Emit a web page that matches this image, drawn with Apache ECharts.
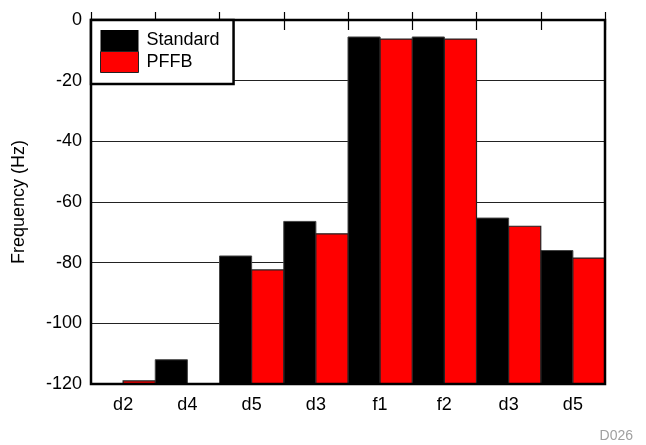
<!DOCTYPE html>
<html>
<head>
<meta charset="utf-8">
<script src="https://cdn.jsdelivr.net/npm/echarts@6/dist/echarts.min.js"></script>
<style>
  html, body { margin: 0; padding: 0; background: #fff; }
  #chart { width: 646px; height: 445px; }
</style>
</head>
<body>
<div id="chart"></div>
<script>
(function () {
  'use strict';
  // categories along the x axis (d3 and d5 appear twice)
  var categories = ['d2', 'd4', 'd5', 'd3', 'f1', 'f2', 'd3', 'd5'];
  // bar tops
  var standard = [-120, -112, -77.8, -66.4, -5.6, -5.6, -65.3, -76];
  var pffb = [-119, -120, -82.4, -70.5, -6.3, -6.3, -68, -78.5];
  var yMin = -120;
  var yMax = 0;
  var yStep = 20;

  var font = '"Liberation Sans", Arial, sans-serif';
  var myChart = echarts.init(document.getElementById('chart'));

  // bars start from the bottom of the axis, so draw them as custom rects
  function makeRender(side) {
    return function (params, api) {
      var idx = api.value(0);
      var top = api.coord([idx, api.value(1)]);
      var base = api.coord([idx, yMin]);
      var band = api.size([1, 0])[0];
      var h = base[1] - top[1];
      if (h <= 0.5) return null;
      var x = side === 0 ? top[0] - band / 2 : top[0];
      return {
        type: 'rect',
        shape: { x: x, y: top[1], width: band / 2, height: h },
        style: api.style()
      };
    };
  }

  function toData(arr) {
    return arr.map(function (v, i) { return [i, v]; });
  }

  var option = {
    animation: false,
    backgroundColor: '#fff',
    textStyle: { fontFamily: font },
    grid: {
      left: 91, right: 41, top: 20, bottom: 61,
      show: true, z: 10,
      borderColor: '#000', borderWidth: 2.5,
      backgroundColor: 'transparent'
    },
    legend: {
      orient: 'vertical',
      left: 91, top: 20,
      padding: [10, 14, 11, 9],
      itemGap: 0,
      itemWidth: 38,
      itemHeight: 21,
      backgroundColor: '#fff',
      borderColor: '#000',
      borderWidth: 2.5,
      z: 20,
      textStyle: { fontFamily: font, fontSize: 18, color: '#000', padding: [0, 0, 0, 3] },
      data: [
        { name: 'Standard', icon: 'rect', itemStyle: { color: '#000', borderWidth: 0 } },
        { name: 'PFFB', icon: 'rect', itemStyle: { color: '#ff0000', borderColor: '#222', borderWidth: 1 } }
      ]
    },
    xAxis: [{
      type: 'category',
      data: categories,
      position: 'bottom',
      z: 12,
      axisLine: { show: false },
      axisTick: { show: true, length: 10, lineStyle: { color: '#000', width: 1.2 } },
      axisLabel: { fontFamily: font, fontSize: 18, color: '#000', margin: 12 },
      splitLine: { show: false }
    }, {
      type: 'category',
      data: categories,
      position: 'top',
      z: 12,
      axisLine: { show: false },
      axisTick: { show: true, length: 8, lineStyle: { color: '#000', width: 1.2 } },
      axisLabel: { show: false },
      splitLine: { show: false }
    }],
    yAxis: {
      type: 'value',
      min: yMin, max: yMax, interval: yStep,
      name: 'Frequency (Hz)',
      nameLocation: 'middle',
      nameGap: 63,
      nameTextStyle: { fontFamily: font, fontSize: 18, color: '#000' },
      axisLine: { show: false },
      axisTick: { show: false },
      axisLabel: { fontFamily: font, fontSize: 18, color: '#000', margin: 9 },
      splitLine: { show: true, lineStyle: { color: '#222', width: 1 } }
    },
    series: [{
      name: 'Standard',
      type: 'custom',
      renderItem: makeRender(0),
      encode: { x: 0, y: 1 },
      itemStyle: { color: '#000', borderColor: '#444', borderWidth: 1 },
      data: toData(standard)
    }, {
      name: 'PFFB',
      type: 'custom',
      renderItem: makeRender(1),
      encode: { x: 0, y: 1 },
      itemStyle: { color: '#ff0000', borderColor: '#222', borderWidth: 1.2 },
      data: toData(pffb)
    }],
    graphic: [{
      type: 'text',
      right: 13, bottom: 2,
      style: { text: 'D026', fontFamily: font, fontSize: 14, fill: '#a0a0a0' }
    }]
  };

  myChart.setOption(option);
  window.addEventListener('resize', function () {
    myChart.resize();
  });
})();
</script>
</body>
</html>
